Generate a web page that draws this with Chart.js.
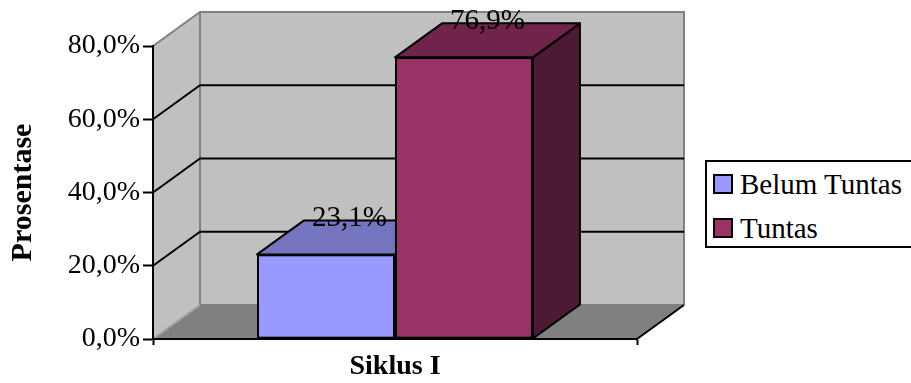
<!DOCTYPE html>
<html>
<head>
<meta charset="utf-8">
<title>Prosentase Ketuntasan Siklus I</title>
<script src="https://cdn.jsdelivr.net/npm/chart.js@4.4.1/dist/chart.umd.min.js"></script>
<style>
    html, body { margin: 0; padding: 0; background: #fff; }
    #chart-container { position: relative; width: 911px; height: 383px; overflow: hidden; }
    #legend {
        position: absolute; left: 705px; top: 160px; width: 240px; height: 84px;
        border: 2px solid #000; background: #fff;
        font-family: "Liberation Serif", "Times New Roman", serif; font-size: 29px; color: #000;
    }
    #legend ul { list-style: none; margin: 0; padding: 0 0 0 6px; }
    #legend li { display: flex; align-items: center; height: 44px; line-height: 44px; white-space: nowrap; }
    #legend .swatch { width: 20px; height: 20px; border: 2px solid #000; box-sizing: border-box; margin-right: 7px; }
</style>
</head>
<body>
<div id="chart-container">
    <canvas id="chart" width="911" height="383"></canvas>
    <div id="legend"><ul></ul></div>
</div>
<script>
// Chart values
const categories = ['Siklus I'];
const seriesNames = ['Belum Tuntas', 'Tuntas'];
const belumTuntas = [23.1];
const tuntas = [76.9];
const yTicks = [0, 20, 40, 60, 80];

// 3D look: depth offset of walls and bars, face shades per series
const DEPTH_X = 47;
const DEPTH_Y = -34;
const frontColors = ['#9999FF', '#993366'];
const topColors = ['#7474BF', '#70244B'];
const sideColors = ['#4D4D80', '#4D1A33'];

Chart.defaults.font.family = '"Liberation Serif", "Times New Roman", serif';
Chart.defaults.color = '#000';

function formatPercent(v) {
    return v.toFixed(1).replace('.', ',') + '%';
}

function polygon(ctx, pts) {
    ctx.beginPath();
    ctx.moveTo(pts[0][0], pts[0][1]);
    for (let i = 1; i < pts.length; i++) ctx.lineTo(pts[i][0], pts[i][1]);
    ctx.closePath();
}

// Side wall, back wall, floor and gridlines behind the bars
const wallPlugin = {
    id: 'wall3d',
    beforeDraw(chart) {
        const { ctx, chartArea: a, scales: { y } } = chart;
        const dx = DEPTH_X, dy = DEPTH_Y;
        ctx.save();

        ctx.fillStyle = '#C0C0C0';
        polygon(ctx, [[a.left, a.top], [a.left + dx, a.top + dy], [a.left + dx, a.bottom + dy], [a.left, a.bottom]]);
        ctx.fill();
        ctx.fillRect(a.left + dx, a.top + dy, a.right - a.left, a.bottom - a.top);

        ctx.fillStyle = '#808080';
        polygon(ctx, [[a.left, a.bottom], [a.left + dx, a.bottom + dy], [a.right + dx, a.bottom + dy], [a.right, a.bottom]]);
        ctx.fill();

        // wall edges
        ctx.strokeStyle = '#808080';
        ctx.lineWidth = 2;
        ctx.beginPath();
        ctx.moveTo(a.left, a.top);
        ctx.lineTo(a.left + dx, a.top + dy);
        ctx.lineTo(a.right + dx, a.top + dy);
        ctx.lineTo(a.right + dx, a.bottom + dy);
        ctx.moveTo(a.left + dx, a.top + dy);
        ctx.lineTo(a.left + dx, a.bottom + dy);
        ctx.lineTo(a.right + dx, a.bottom + dy);
        ctx.stroke();
        ctx.strokeStyle = '#A0A0A0';
        ctx.beginPath();
        ctx.moveTo(a.left, a.bottom);
        ctx.lineTo(a.left + dx, a.bottom + dy);
        ctx.stroke();

        // gridlines run along the side wall and across the back wall
        ctx.strokeStyle = '#000';
        ctx.beginPath();
        y.ticks.forEach(t => {
            if (t.value <= y.min || t.value >= y.max) return;
            const py = y.getPixelForValue(t.value);
            ctx.moveTo(a.left, py);
            ctx.lineTo(a.left + dx, py + dy);
            ctx.lineTo(a.right + dx, py + dy);
        });
        ctx.moveTo(a.right, a.bottom);
        ctx.lineTo(a.right + dx, a.bottom + dy);
        ctx.stroke();

        ctx.restore();
    }
};

// Bars again, left to right: front face from the bar element, then side and top faces,
// so a later bar hides the side of the one before it
const barDepthPlugin = {
    id: 'barDepth',
    afterDatasetsDraw(chart) {
        const { ctx } = chart;
        const dx = DEPTH_X, dy = DEPTH_Y;
        ctx.save();
        chart.data.datasets.forEach((ds, i) => {
            chart.getDatasetMeta(i).data.forEach(bar => {
                bar.draw(ctx);
                const { x, y, base, width } = bar.getProps(['x', 'y', 'base', 'width'], true);
                const x0 = x - width / 2, x1 = x + width / 2;
                ctx.strokeStyle = '#000';
                ctx.lineWidth = 2;
                ctx.lineJoin = 'round';
                ctx.fillStyle = sideColors[i];
                polygon(ctx, [[x1, y], [x1 + dx, y + dy], [x1 + dx, base + dy], [x1, base]]);
                ctx.fill();
                ctx.stroke();
                ctx.fillStyle = topColors[i];
                polygon(ctx, [[x0, y], [x0 + dx, y + dy], [x1 + dx, y + dy], [x1, y]]);
                ctx.fill();
                ctx.stroke();
            });
        });

        // value labels sit on the back edge of each bar's top face
        ctx.fillStyle = '#000';
        ctx.font = '29px "Liberation Serif", "Times New Roman", serif';
        ctx.textAlign = 'center';
        ctx.textBaseline = 'alphabetic';
        chart.data.datasets.forEach((ds, i) => {
            chart.getDatasetMeta(i).data.forEach((bar, j) => {
                const { x, y } = bar.getProps(['x', 'y'], true);
                ctx.fillText(formatPercent(ds.data[j]), x + dx / 2, y + dy + 6);
            });
        });
        ctx.restore();
    }
};

// Legend built as HTML from the chart's own legend items
const htmlLegendPlugin = {
    id: 'htmlLegend',
    afterUpdate(chart) {
        const list = document.querySelector('#legend ul');
        list.innerHTML = '';
        const items = chart.options.plugins.legend.labels.generateLabels(chart);
        items.forEach(item => {
            const li = document.createElement('li');
            const box = document.createElement('span');
            box.className = 'swatch';
            box.style.background = item.fillStyle;
            const text = document.createElement('span');
            text.textContent = item.text;
            li.appendChild(box);
            li.appendChild(text);
            list.appendChild(li);
        });
    }
};

new Chart(document.getElementById('chart'), {
    type: 'bar',
    data: {
        labels: categories,
        datasets: [belumTuntas, tuntas].map((values, i) => ({
            label: seriesNames[i],
            data: values,
            backgroundColor: frontColors[i],
            borderColor: '#000',
            borderWidth: 2,
            borderSkipped: false,
            barPercentage: 1,
            categoryPercentage: 0.57
        }))
    },
    options: {
        responsive: false,
        animation: false,
        devicePixelRatio: 1,
        layout: { padding: { top: 46, right: 274, bottom: 0, left: 0 } },
        plugins: {
            legend: { display: false },
            tooltip: { enabled: false }
        },
        scales: {
            x: {
                grid: { drawOnChartArea: false, drawTicks: true, tickLength: 6, tickColor: '#000', tickWidth: 2 },
                border: { display: true, color: '#000', width: 2 },
                ticks: { color: '#000', font: { size: 28, weight: 'bold' }, padding: 5 },
                afterFit: scale => { scale.height = 44; }
            },
            y: {
                min: 0,
                max: 80,
                afterBuildTicks: axis => { axis.ticks = yTicks.map(value => ({ value })); },
                grid: { drawOnChartArea: false, tickLength: 10, tickColor: '#000', tickWidth: 2 },
                border: { display: true, color: '#000', width: 2 },
                ticks: { color: '#000', font: { size: 28 }, padding: 3, callback: v => formatPercent(v) },
                title: {
                    display: true,
                    text: 'Prosentase',
                    color: '#000',
                    font: { size: 30, weight: 'bold' },
                    padding: { top: 5, bottom: 0 }
                },
                afterFit: scale => { scale.width = 153; }
            }
        }
    },
    plugins: [wallPlugin, barDepthPlugin, htmlLegendPlugin]
});
</script>
</body>
</html>
